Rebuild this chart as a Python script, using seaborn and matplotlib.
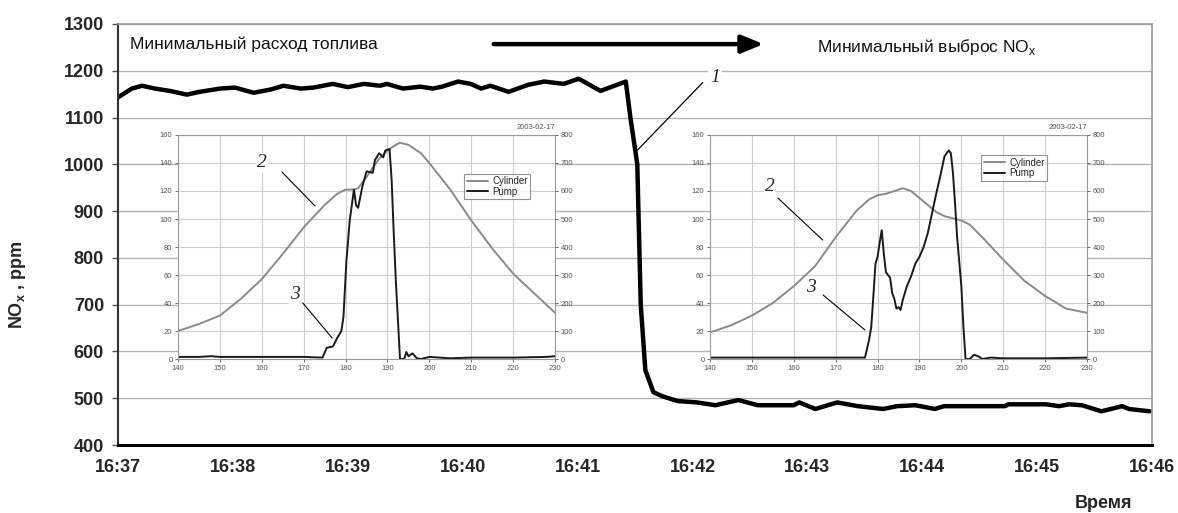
import numpy as np
import pandas as pd
import matplotlib
matplotlib.use("Agg")
import matplotlib.pyplot as plt
import seaborn as sns

# ---------------- data ----------------
time_labels = ["16:37", "16:38", "16:39", "16:40", "16:41",
               "16:42", "16:43", "16:44", "16:45", "16:46"]
main_t = [0.0, 0.12, 0.21, 0.32, 0.45, 0.60, 0.71, 0.89, 1.02, 1.18, 1.33, 1.44,
          1.59, 1.70, 1.87, 2.00, 2.14, 2.28, 2.34, 2.48, 2.63, 2.74, 2.82, 2.96,
          3.07, 3.16, 3.24, 3.40, 3.57, 3.71, 3.88, 4.01, 4.20, 4.42, 4.46, 4.52,
          4.55, 4.59, 4.66, 4.74, 4.87, 5.04, 5.20, 5.27, 5.40, 5.57, 5.88, 5.93,
          6.07, 6.26, 6.44, 6.66, 6.78, 6.94, 7.11, 7.19, 7.72, 7.75, 8.08, 8.19,
          8.28, 8.39, 8.56, 8.74, 8.80, 8.98]
main_nox = [1143, 1162, 1168, 1162, 1157, 1149, 1155, 1162, 1164, 1153, 1160, 1168,
            1162, 1164, 1172, 1165, 1172, 1168, 1172, 1162, 1166, 1162, 1166, 1177,
            1172, 1162, 1168, 1155, 1170, 1177, 1172, 1183, 1157, 1177, 1100, 1000,
            700, 560, 513, 504, 494, 491, 485, 489, 496, 485, 485, 491,
            477, 491, 483, 477, 483, 485, 477, 483, 483, 487, 487, 483,
            487, 485, 472, 483, 477, 472]

inset_x_ticks = list(range(140, 231, 10))
inset_left_ticks = list(range(0, 161, 20))
inset_right_ticks = list(range(0, 801, 100))
date_label = "2003-02-17"
legend_labels = ["Cylinder", "Pump"]

cyl1_x = [140, 145, 150, 155, 160, 165, 170, 175, 178, 180, 182, 183, 185, 188,
          190, 192, 193, 195, 198, 200, 205, 210, 215, 220, 225, 230]
cyl1_y = [20, 25, 31, 43, 57, 75, 94, 110, 118, 121, 121, 122, 130, 143,
          149, 153, 154.5, 153, 147, 140, 121, 99, 79, 61, 47, 33]
pump1_x = [140, 145, 148, 150, 160, 170, 174.5, 175.5, 177, 178, 179, 179.5,
           180.2, 181, 182, 182.5, 183, 184, 185, 186.5, 187, 188, 189, 189.5,
           190.5, 191, 191.5, 192, 192.5, 193, 194, 194.5, 195, 196, 197, 198,
           200, 205, 210, 220, 228, 230]
pump1_y = [1.5, 1.5, 2, 1.5, 1.5, 1.5, 1, 8, 9, 15, 20, 30,
           70, 99, 121, 110, 108, 123, 134, 133, 142, 147, 144, 149,
           150, 128, 90, 56, 28, 0, 0, 5, 2, 4, 0.5, 0,
           1.5, 0.5, 1, 1, 1.5, 2]

cyl2_x = [140, 145, 150, 155, 160, 165, 170, 175, 178, 180, 182, 184, 186, 188,
          190, 192, 194, 196, 198, 200, 202, 205, 210, 215, 220, 225, 230]
cyl2_y = [19, 24, 31, 40, 52, 66, 87, 106, 114, 117, 118, 120, 122, 120,
          115, 110, 105, 102, 100.5, 99, 96, 87, 71, 56, 45, 36, 33]
pump2_x = [140, 150, 160, 170, 176, 177, 178, 178.5, 179, 179.5, 180, 180.5, 181,
           181.5, 182, 183, 183.5, 184, 184.5, 185, 185.5, 186, 187, 188, 189,
           190, 191, 192, 193, 194, 195, 196, 197, 197.5, 198, 198.5, 199, 200,
           200.5, 201, 202, 203, 204, 205, 207, 210, 220, 230]
pump2_y = [1, 1, 1, 1, 1, 1, 14, 23, 45, 68, 73, 83, 92,
           75, 62, 58, 47, 43, 36, 37, 35, 42, 52, 59, 68,
           73, 80, 90, 104, 118, 131, 145, 149, 147, 133, 111, 87, 52,
           23, 0, 0, 3, 2, 0, 1, 0.5, 0.5, 1]

# ---------------- style ----------------
sns.set_theme(style="white")
plt.rcParams['font.family'] = ['Liberation Sans', 'DejaVu Sans']
plt.rcParams['mathtext.fontset'] = 'custom'
plt.rcParams['mathtext.rm'] = 'Liberation Sans'
plt.rcParams['mathtext.bf'] = 'Liberation Sans:bold'

W, H = 1178, 513
fig = plt.figure(figsize=(W / 100, H / 100), dpi=100)
fig.patch.set_facecolor("white")

def fx(px):
    return px / W

def fy(py):
    return 1 - py / H

# main axes
ax = fig.add_axes([fx(118), fy(445), fx(1152) - fx(118), fy(24) - fy(445)])
main_df = pd.DataFrame({"t": main_t, "nox": main_nox})
sns.lineplot(data=main_df, x="t", y="nox", ax=ax, color="black", lw=3.2,
             estimator=None, sort=False)
ax.set_xlim(0, 9)
ax.set_ylim(400, 1300)
ax.set_xticks(range(len(time_labels)))
ax.set_xticklabels(time_labels)
ax.set_yticks(range(400, 1301, 100))
ax.yaxis.grid(True, color="#b4b4b4", lw=1.0)
ax.xaxis.grid(False)
ax.set_xlabel("")
ax.set_ylabel("")
for lab in ax.get_xticklabels() + ax.get_yticklabels():
    lab.set_fontweight("bold")
    lab.set_fontsize(13)
ax.tick_params(axis="x", pad=10, length=0)
ax.tick_params(axis="y", pad=6, length=4, width=1, left=True, color="#555555")
ax.spines["left"].set_color("#333333")
ax.spines["left"].set_linewidth(1.5)
ax.spines["bottom"].set_color("black")
ax.spines["bottom"].set_linewidth(2.2)
ax.spines["top"].set_color("#9a9a9a")
ax.spines["top"].set_linewidth(1.2)
ax.spines["right"].set_color("#9a9a9a")
ax.spines["right"].set_linewidth(1.2)

# texts and arrow
ax.text(0.105, 1257, "Минимальный расход топлива", fontsize=12.5, va="center",
        ha="left", color="#111111")
ax.text(6.08, 1251, "Минимальный выброс NO$_{\\mathregular{x}}$", fontsize=12.5,
        va="center", ha="left", color="#111111")
ax.annotate("", xy=(5.62, 1257), xytext=(3.27, 1257),
            arrowprops=dict(arrowstyle="-|>,head_length=1.1,head_width=0.45",
                            lw=3.2, color="black", shrinkA=0, shrinkB=0))
ax.annotate("", xy=(4.52, 1030), xytext=(5.09, 1175),
            arrowprops=dict(arrowstyle="-", lw=0.9, color="black",
                            shrinkA=0, shrinkB=0))
ax.text(5.2, 1185, "1", fontsize=14, style="italic", family="Liberation Serif",
        ha="center", va="center",
        bbox=dict(facecolor="white", edgecolor="none", pad=1.5))

fig.text(fx(18), fy(285), "NO$_{\\mathbf{x}}$ , ppm", rotation=90, fontsize=13,
         fontweight="bold", ha="center", va="center")
fig.text(fx(1132), fy(503), "Время", fontsize=13, fontweight="bold",
         ha="right", va="center")


def make_inset(left_px, cyl_x, cyl_y, pump_x, pump_y, leg_anchor, notes):
    ia = fig.add_axes([fx(left_px), fy(359), fx(377), fy(135) - fy(359)])
    ia.set_facecolor("white")
    cdf = pd.DataFrame({"x": cyl_x, "y": cyl_y})
    pdf = pd.DataFrame({"x": pump_x, "y": pump_y})
    sns.lineplot(data=cdf, x="x", y="y", ax=ia, color="#8a8a8a", lw=1.4,
                 estimator=None, sort=False, label=legend_labels[0], legend=False)
    sns.lineplot(data=pdf, x="x", y="y", ax=ia, color="#1a1a1a", lw=1.4,
                 estimator=None, sort=False, label=legend_labels[1], legend=False)
    ia.set_xlim(140, 230)
    ia.set_ylim(0, 160)
    ia.set_xticks(inset_x_ticks)
    ia.set_yticks(inset_left_ticks)
    ia.grid(True, color="#cfcfcf", lw=0.8)
    ia.set_xlabel("")
    ia.set_ylabel("")
    ia.tick_params(labelsize=5.5, colors="#555555", length=2, width=0.6,
                   pad=2, left=True, bottom=True)
    for s in ia.spines.values():
        s.set_color("#9a9a9a")
        s.set_linewidth(0.8)
    ib = ia.twinx()
    ib.set_ylim(0, 800)
    ib.set_yticks(inset_right_ticks)
    ib.grid(False)
    ib.tick_params(labelsize=5.5, colors="#555555", length=2, width=0.6,
                   pad=2, right=True)
    for s in ib.spines.values():
        s.set_visible(False)
    ia.text(1.0, 1.02, date_label, transform=ia.transAxes, fontsize=5.5,
            color="#555555", ha="right", va="bottom")
    handles, labels = ia.get_legend_handles_labels()
    leg = ia.legend(handles, labels, loc="upper right", bbox_to_anchor=leg_anchor,
                    fontsize=7, frameon=True, fancybox=False, handlelength=2.2,
                    borderpad=0.25, labelspacing=0.05, handletextpad=0.4,
                    borderaxespad=0)
    leg.get_frame().set_edgecolor("#777777")
    leg.get_frame().set_linewidth(0.8)
    for txt, (tx, ty, x0, y0, x1, y1) in notes:
        ia.annotate("", xy=(x1, y1), xytext=(x0, y0),
                    arrowprops=dict(arrowstyle="-", lw=0.8, color="black",
                                    shrinkA=0, shrinkB=0))
        ia.text(tx, ty, txt, fontsize=14, style="italic",
                family="Liberation Serif", ha="center", va="center",
                bbox=dict(facecolor="white", edgecolor="none", pad=1.0))
    return ia


make_inset(178, cyl1_x, cyl1_y, pump1_x, pump1_y, (0.934, 0.826),
           [("2", (160.0, 140, 164.8, 133.6, 172.7, 109.3)),
            ("3", (167.9, 46, 169.8, 40, 176.8, 15))])
make_inset(710, cyl2_x, cyl2_y, pump2_x, pump2_y, (0.894, 0.91),
           [("2", (154.3, 123, 156.2, 115, 166.9, 85)),
            ("3", (164.1, 51, 167.0, 45.7, 177.0, 20.7))])

fig.savefig("out.png", dpi=100, facecolor="white")
